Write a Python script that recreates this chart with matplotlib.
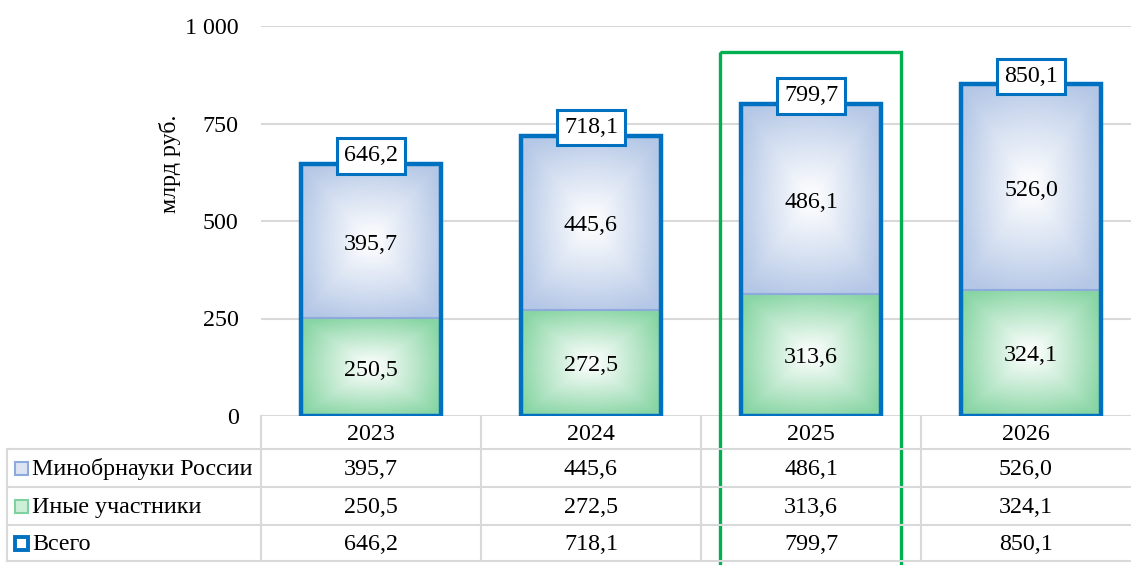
import numpy as np
import matplotlib
matplotlib.use('Agg')
import matplotlib.pyplot as plt
from matplotlib.patches import Rectangle

plt.rcParams['font.family'] = ['Liberation Serif', 'DejaVu Serif']

# Data
years = ['2023', '2024', '2025', '2026']
minobr = [395.7, 445.6, 486.1, 526.0]
others = [250.5, 272.5, 313.6, 324.1]
totals = [646.2, 718.1, 799.7, 850.1]
row_names = ['Минобрнауки России', 'Иные участники', 'Всего']
highlight_year = '2025'
y_ticks = [0, 250, 500, 750, 1000]
y_tick_labels = ['0', '250', '500', '750', '1 000']


def fmt(v):
    return f'{v:.1f}'.replace('.', ',')


def gradient(edge_rgb, n=80):
    # white centre fading to edge colour (Office "path" style fill)
    u = np.linspace(-1, 1, n)
    uu, vv = np.meshgrid(u, u)
    d = np.clip(0.55 * np.maximum(abs(uu), abs(vv)) + 0.45 * np.sqrt(uu**2 + vv**2) / 1.2, 0, 1) ** 1.1
    edge = np.array(edge_rgb) / 255.0
    img = (1 - d[..., None]) * 1.0 + d[..., None] * edge
    return img


W, H = 1131, 565
fig = plt.figure(figsize=(W / 100, H / 100), dpi=100)

ax_left, ax_right, ax_top, ax_bottom = 261, 1141, 26, 416
ax = fig.add_axes([ax_left / W, 1 - ax_bottom / H, (ax_right - ax_left) / W, (ax_bottom - ax_top) / H])

blue_edge = '#0070C0'
fs = 17.3
bw = 0.635
x = np.arange(len(years))

blue_img = gradient((180, 199, 230))
green_img = gradient((135, 213, 163))

for i in x:
    l, r = i - bw / 2, i + bw / 2
    ax.imshow(green_img, extent=(l, r, 0, others[i]), aspect='auto', zorder=2, interpolation='bilinear')
    ax.imshow(blue_img, extent=(l, r, others[i], totals[i]), aspect='auto', zorder=2, interpolation='bilinear')
    ax.plot([l, r], [others[i], others[i]], color='#8EA9DB', lw=1.5, zorder=3)
    ax.add_patch(Rectangle((l, 0), bw, totals[i], fill=False, edgecolor=blue_edge, lw=3.2, zorder=4))
    ax.text(i, others[i] / 2 - 8, fmt(others[i]), ha='center', va='center', fontsize=fs, zorder=5)
    ax.text(i, others[i] + minobr[i] / 2 - 8, fmt(minobr[i]), ha='center', va='center', fontsize=fs, zorder=5)
    ax.text(i, totals[i] + 21, fmt(totals[i]), ha='center', va='center', fontsize=fs, zorder=6,
            bbox=dict(boxstyle='square,pad=0.3', facecolor='white', edgecolor=blue_edge, lw=2.2))

ax.set_xlim(-0.5, len(years) - 0.5)
ax.set_ylim(0, 1000)
ax.set_yticks(y_ticks)
ax.set_yticklabels(y_tick_labels, fontsize=fs)
ax.tick_params(axis='y', length=0, pad=16)
ax.set_xticks([])
ax.yaxis.grid(True, color='#D9D9D9', lw=1.5, zorder=0)
ax.set_axisbelow(True)
for s in ax.spines.values():
    s.set_visible(False)

fig.text(170 / W, 1 - 164 / H, 'млрд руб.', rotation=90, ha='center', va='center', fontsize=fs)

# Data table drawn in pixel coordinates on an overlay
ov = fig.add_axes([0, 0, 1, 1], facecolor='none')
ov.set_xlim(0, W)
ov.set_ylim(H, 0)
ov.axis('off')

grid_c = '#D9D9D9'
col_edges = [261, 481, 701, 921, 1131]
row_edges = [416, 449, 487, 525, 561]
tbl_left = 7
for cx in col_edges[:-1]:
    ov.plot([cx, cx], [row_edges[0], row_edges[-1]], color=grid_c, lw=1.5)
ov.plot([tbl_left, tbl_left], [row_edges[1], row_edges[-1]], color=grid_c, lw=1.5)
for ry in row_edges[1:]:
    ov.plot([tbl_left, W], [ry, ry], color=grid_c, lw=1.5)

col_centers = [(col_edges[k] + col_edges[k + 1]) / 2 for k in range(len(years))]
row_centers = [(row_edges[k] + row_edges[k + 1]) / 2 + 1.5 for k in range(len(row_edges) - 1)]
for k, yr in enumerate(years):
    ov.text(col_centers[k], row_centers[0], yr, ha='center', va='center', fontsize=fs)
    for j, series in enumerate([minobr, others, totals]):
        ov.text(col_centers[k], row_centers[j + 1], fmt(series[k]), ha='center', va='center', fontsize=fs)

marker_styles = [
    dict(facecolor='#DCE4F3', edgecolor='#8EA9DB', lw=1.5),
    dict(facecolor='#CDEFD8', edgecolor='#7FD1A0', lw=1.5),
    dict(facecolor='white', edgecolor=blue_edge, lw=2.8),
]
for j, name in enumerate(row_names):
    cy = row_centers[j + 1] - 1.5
    ov.add_patch(Rectangle((14.5, cy - 6.5), 13, 13, **marker_styles[j]))
    ov.text(32, cy + 1, name, ha='left', va='center', fontsize=fs)

# highlight frame around selected year
hk = years.index(highlight_year)
ov.add_patch(Rectangle((720, 52), 181, H, fill=False, edgecolor='#00B050', lw=2.4, clip_on=False))

fig.savefig('out.png', dpi=100)
